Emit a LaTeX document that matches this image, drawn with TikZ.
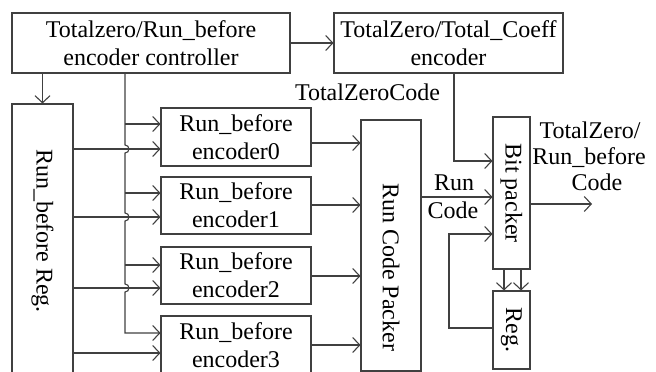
\documentclass[tikz,border=0pt]{standalone}
\usepackage{fontspec}
\setmainfont{Liberation Serif}
\usetikzlibrary{arrows.meta}
\tikzset{
 ln/.style={line width=1.1pt, draw=black!75},
 arr/.style={ln, -{Straight Barb[length=7pt,width=15pt]}},
 box/.style={ln, rectangle, inner sep=0pt, align=center, text=black},
 vtext/.style={rotate=-90, inner sep=0pt},
 lbl/.style={inner sep=0pt, anchor=base},
}
\begin{document}
\begin{tikzpicture}[x=1pt,y=-1pt, font=\fontsize{24}{28}\selectfont]
\path[use as bounding box] (0,0) rectangle (656,372);
\clip (0,0) rectangle (656,372);
% boxes
\node[box,minimum width=278pt,minimum height=60pt] (ctrl) at (151,43) {Totalzero/Run\_before\\encoder controller};
\node[box,minimum width=229pt,minimum height=60pt] (tz) at (448.5,43) {TotalZero/Total\_Coeff\\encoder};
\node[box,minimum width=61pt,minimum height=290pt] (rreg) at (42.5,249) {};
\node[vtext] (rregt) at (42.5,231) {Run\_before Reg.};
\node[box,minimum width=150pt,minimum height=58pt] (e0) at (236,137) {Run\_before\\encoder0};
\node[box,minimum width=150pt,minimum height=57pt] (e1) at (236,205.5) {Run\_before\\encoder1};
\node[box,minimum width=150pt,minimum height=57pt] (e2) at (236,275.5) {Run\_before\\encoder2};
\node[box,minimum width=150pt,minimum height=58pt] (e3) at (236,345) {Run\_before\\encoder3};
\node[box,minimum width=60pt,minimum height=251pt] (rcp) at (391,245.5) {};
\node[vtext] (rcpt) at (391,267) {Run Code Packer};
\node[box,minimum width=37pt,minimum height=152pt] (bp) at (511.5,193) {\rotatebox{-90}{Bit packer}};
\node[box,minimum width=37pt,minimum height=78pt] (reg) at (511.5,330) {\rotatebox{-90}{Reg.}};
% labels
\node[lbl] (tzc) at (367.5,100) {TotalZeroCode};
\node[lbl] (runl) at (454,190) {Run};
\node[lbl] (codel) at (453,218) {Code};
\node[lbl] (o1) at (590,138) {TotalZero/};
\node[lbl] (o2) at (589,164) {Run\_before};
\node[lbl] (o3) at (597,190) {Code};
% connectors
\draw[arr] (ctrl.east) -- (tz.west);
\draw[arr] (ctrl.south -| rreg.north) -- (rreg.north);
\draw[arr] (ctrl.south -| 125,0) -- (125,145) arc[start angle=90,end angle=-90,radius=4pt]
  -- (125,213) arc[start angle=90,end angle=-90,radius=4pt]
  -- (125,284) arc[start angle=90,end angle=-90,radius=4pt]
  -- (125,333) -- (e3.west |- 0,333);
\draw[arr] (125,124) -- (e0.west |- 0,124);
\draw[arr] (125,193) -- (e1.west |- 0,193);
\draw[arr] (125,265) -- (e2.west |- 0,265);
\draw[arr] (rreg.east |- 0,149) -- (e0.west |- 0,149);
\draw[arr] (rreg.east |- 0,217) -- (e1.west |- 0,217);
\draw[arr] (rreg.east |- 0,288) -- (e2.west |- 0,288);
\draw[arr] (rreg.east |- 0,353) -- (e3.west |- 0,353);
\draw[arr] (e0.east |- 0,143) -- (rcp.west |- 0,143);
\draw[arr] (e1.east |- 0,205) -- (rcp.west |- 0,205);
\draw[arr] (e2.east |- 0,276) -- (rcp.west |- 0,276);
\draw[arr] (e3.east |- 0,345) -- (rcp.west |- 0,345);
\draw[arr] (tz.south -| 454,0) -- (454,161) -- (bp.west |- 0,161);
\draw[arr] (rcp.east |- 0,197) -- (bp.west |- 0,197);
\coordinate (out) at (592,204);
\draw[arr] (bp.east |- out) -- (out);
\draw[arr] (bp.south -| 504,0) -- (reg.north -| 504,0);
\draw[arr] (bp.south -| 521,0) -- (reg.north -| 521,0);
\draw[arr] (reg.west |- 0,328) -- (449,328) -- (449,234) -- (bp.west |- 0,234);
\end{tikzpicture}
\end{document}
